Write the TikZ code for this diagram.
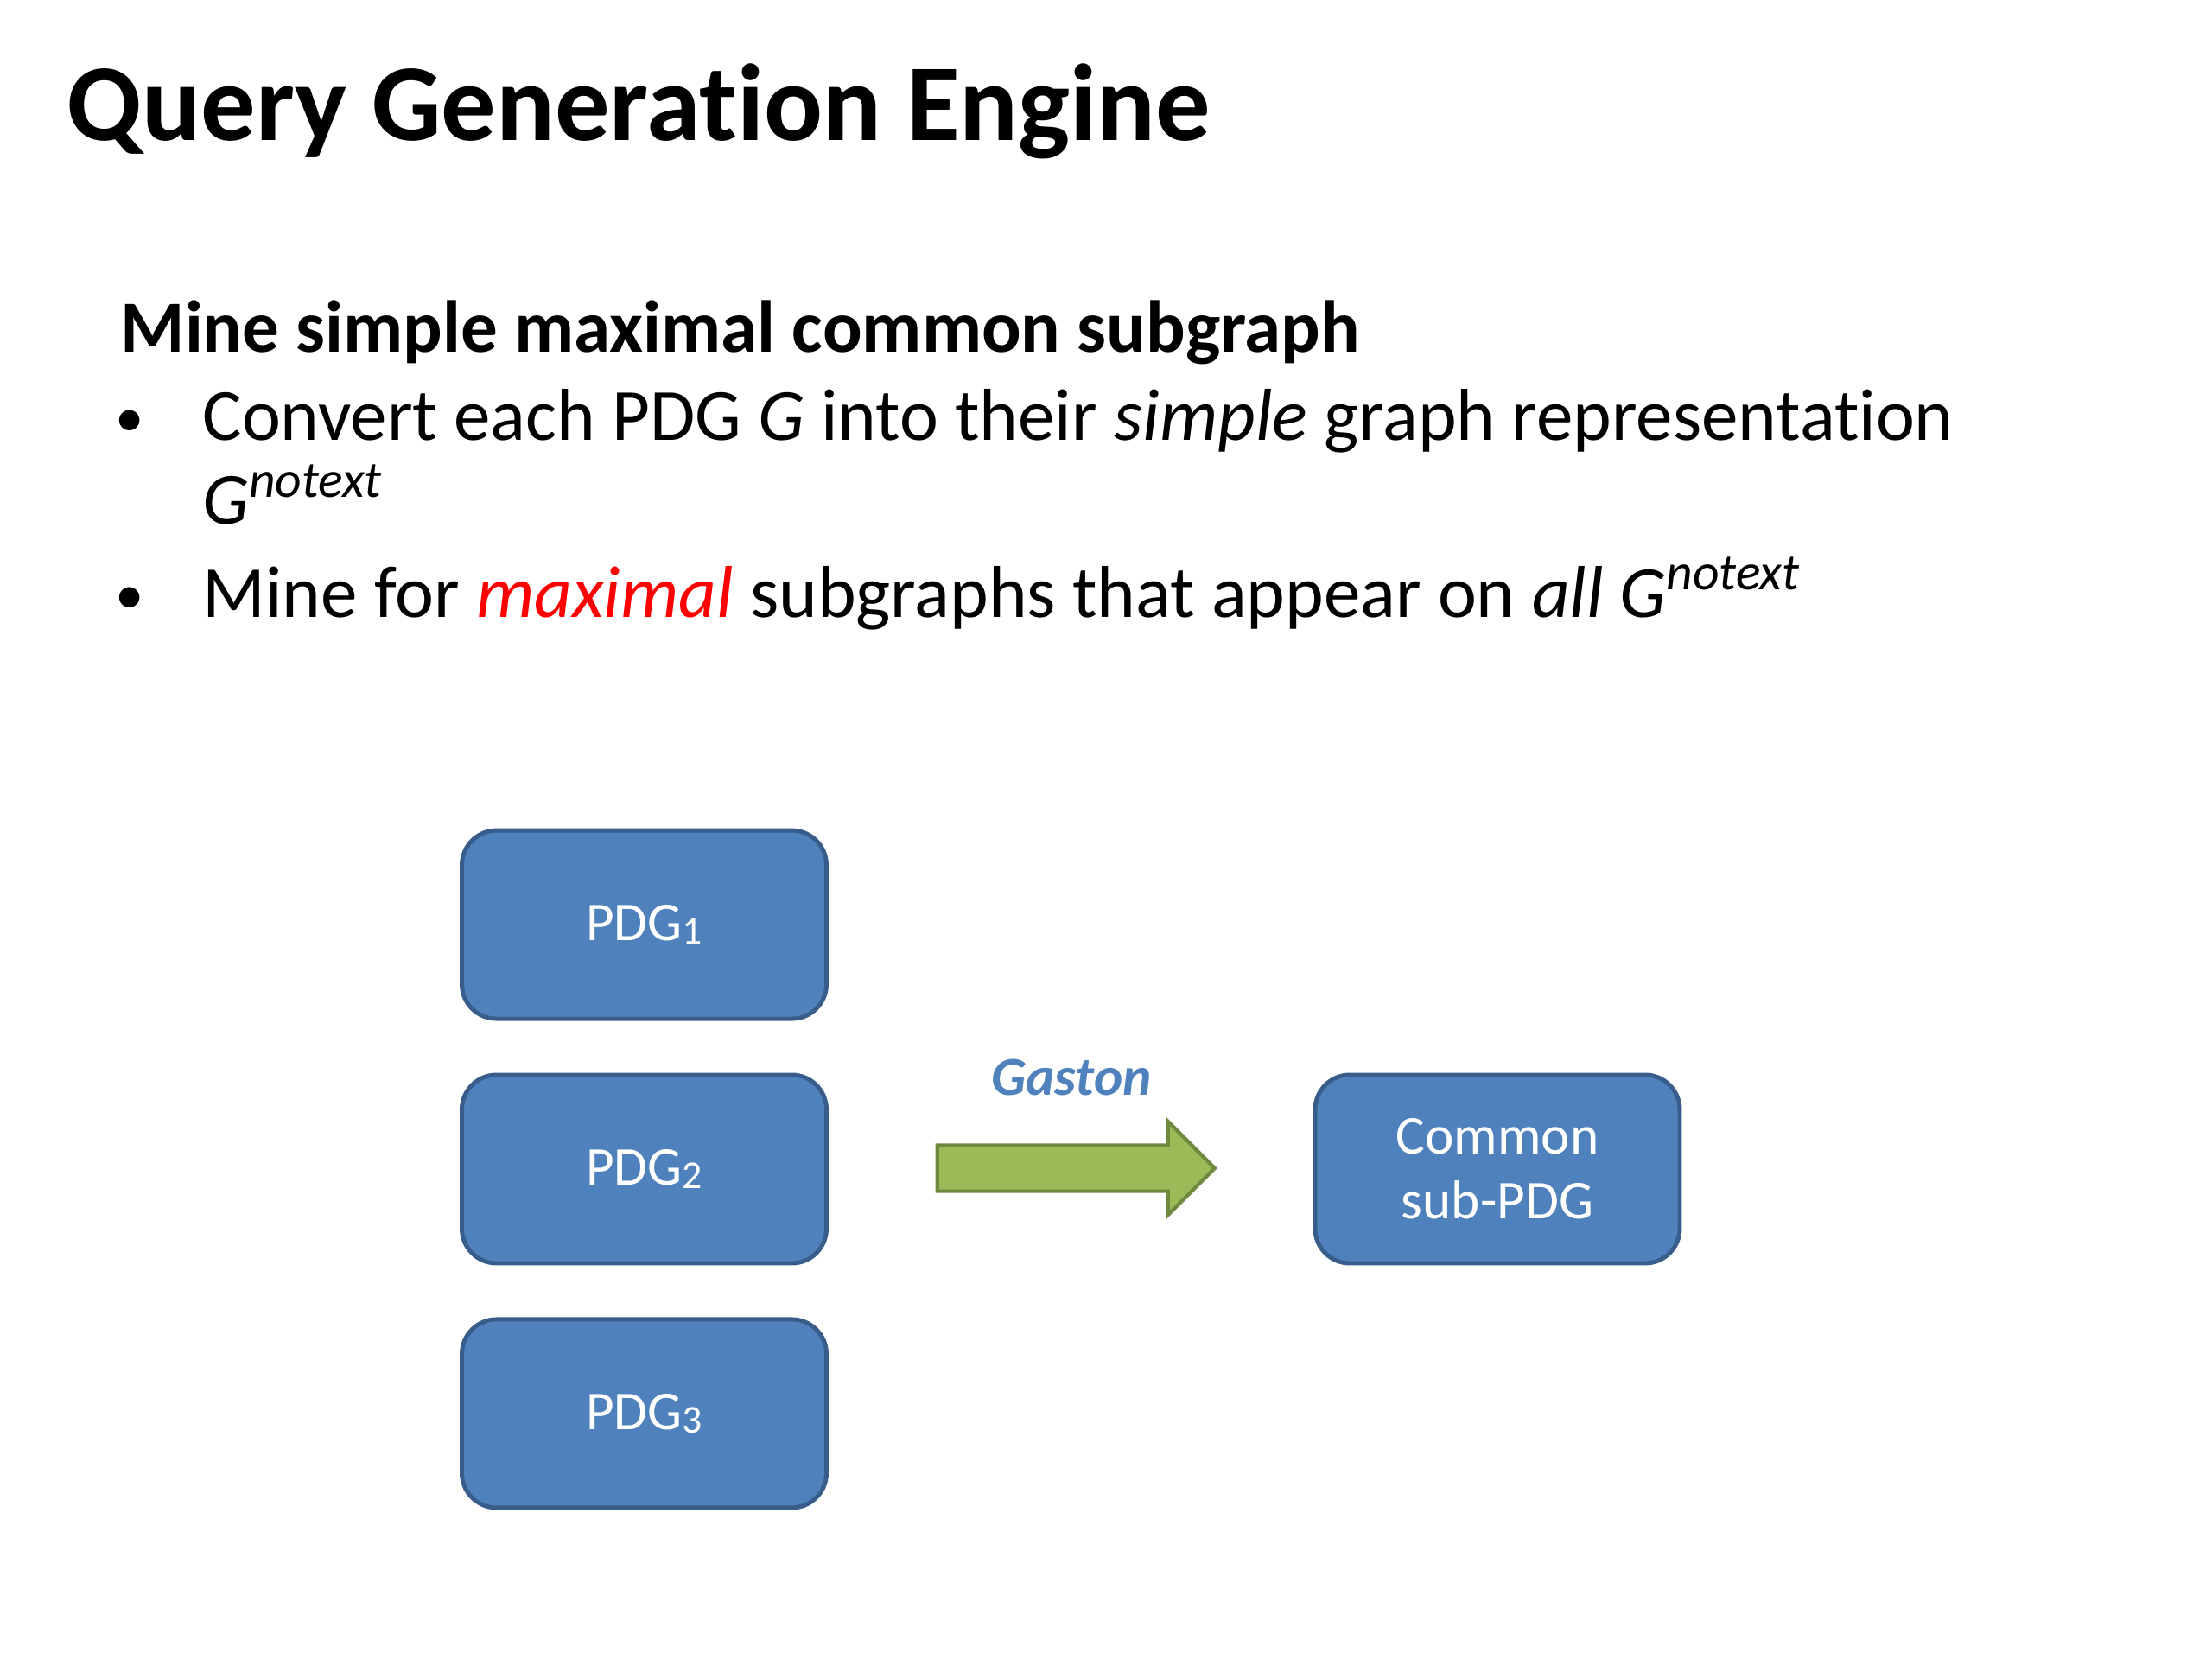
\documentclass[tikz,border=0pt]{standalone}
\usepackage{fontspec}
\setmainfont{Carlito}[Ligatures=NoCommon]
\usepackage{xcolor}
\usetikzlibrary{positioning, shapes.arrows}

\definecolor{boxblue}{HTML}{4F81BD}
\definecolor{boxedge}{HTML}{385D8A}
\definecolor{arrowgreen}{HTML}{9BBB59}
\definecolor{arrowedge}{HTML}{71893F}

\begin{document}
\begin{tikzpicture}[
                node distance=0.6cm,
                pdg_box/.style={rectangle, rounded corners=0.4cm, fill=boxblue, draw=boxedge, line width=1.4pt, minimum width=4.22cm, minimum height=2.18cm, text=white, align=center, font=\fontsize{18}{21.3}\selectfont},
                body_text/.style={anchor=base west, inner sep=0pt, font=\fontsize{24.2}{29}\selectfont},
                bullet_dot/.style={anchor=base, inner sep=0pt, font=\fontsize{19}{22}\selectfont},
                block_arrow/.style={single arrow, fill=arrowgreen, draw=arrowedge, line width=1.2pt, minimum height=3.21cm, inner xsep=0pt, inner ysep=0.245cm, single arrow head extend=0.275cm}
            ]
                \useasboundingbox (0,0) rectangle (25.6,-19.2);

                % Title and text
                \node[anchor=base west, inner sep=0pt, font=\bfseries\fontsize{36}{40}\selectfont] (title) at (0.77,-1.63) {Query Generation Engine};
                \node[body_text, font=\bfseries\fontsize{24.2}{29}\selectfont] (heading) at (1.39,-4.08) {Mine simple maximal common subgraph};
                \node[bullet_dot] (dot1) at (1.50,-5.06) {\textbullet};
                \node[body_text] (item1) at (2.34,-5.10) {Convert each PDG \textit{G} into their \textit{simple} graph representation};
                \node[body_text] (item1b) at (2.34,-6.07) {\textit{G\textsuperscript{notext}}};
                \node[bullet_dot] (dot2) at (1.50,-7.10) {\textbullet};
                \node[body_text] (item2) at (2.34,-7.14) {Mine for \textcolor{red}{\textit{maximal}} subgraphs that appear on \textit{all G\textsuperscript{notext}}};

                % PDG boxes
                \node[pdg_box] (pdg2) at (7.455,-13.53) {PDG\raisebox{-0.15ex}{\fontsize{13}{15}\selectfont 2}};
                \node[pdg_box, above=of pdg2] (pdg1) {PDG\raisebox{-0.15ex}{\fontsize{13}{15}\selectfont 1}};
                \node[pdg_box, below=of pdg2] (pdg3) {PDG\raisebox{-0.15ex}{\fontsize{13}{15}\selectfont 3}};

                % Gaston arrow
                \node[block_arrow] (gastonArrow) at (12.32,-13.52) {};
                \node[anchor=base, inner sep=0pt, text=boxblue, font=\bfseries\itshape\fontsize{18}{21}\selectfont] (gaston) at (12.40,-12.67) {Gaston};

                % Result
                \node[pdg_box] (common) at (17.33,-13.53) {Common\\sub-PDG};

            \end{tikzpicture}
\end{document}
